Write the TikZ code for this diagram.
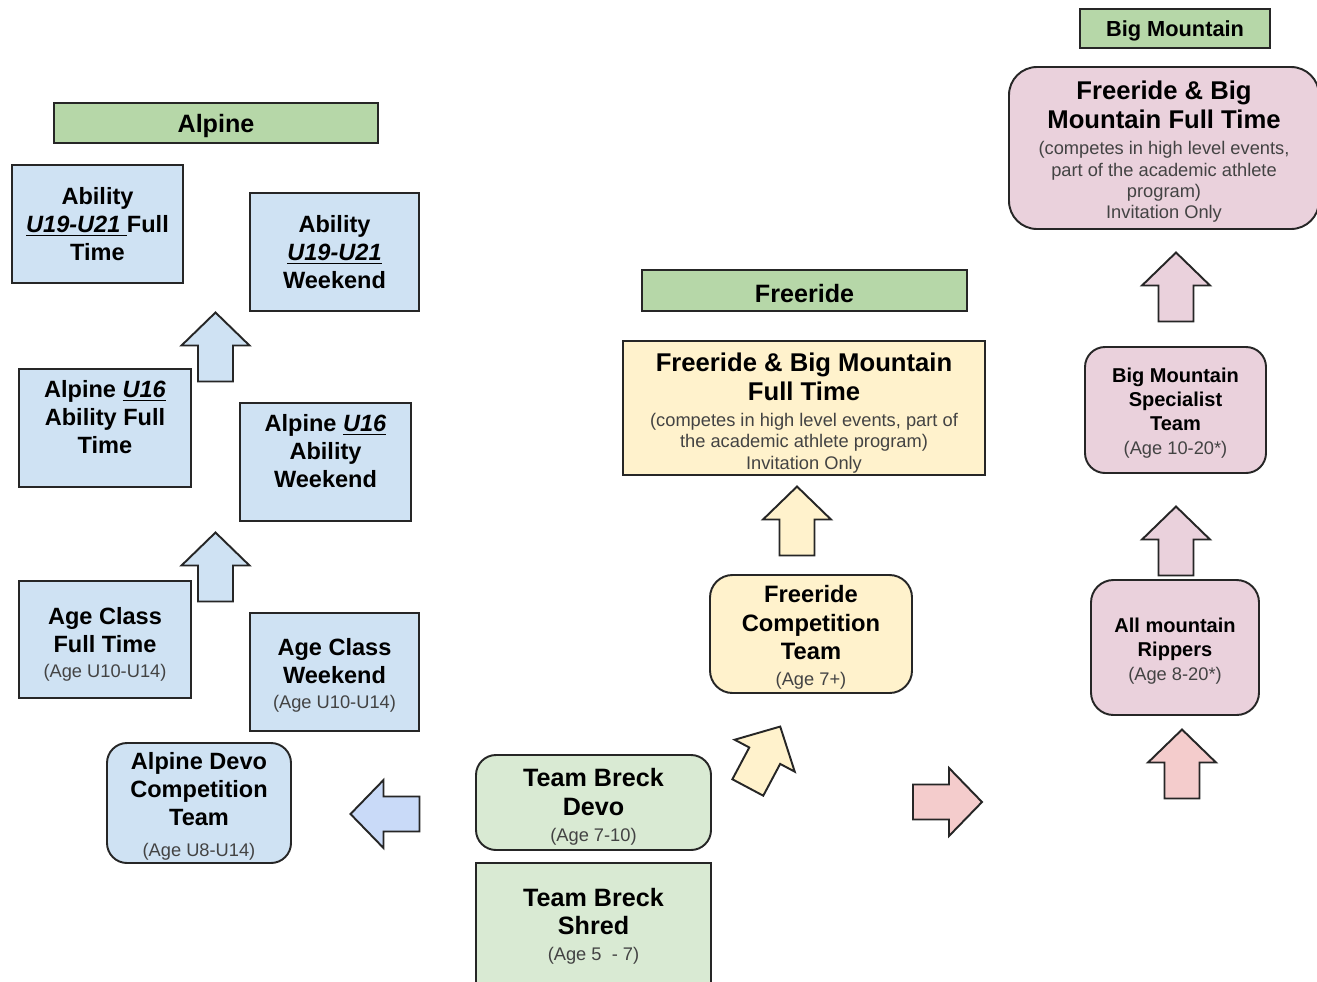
\documentclass[tikz,border=0pt]{standalone}
\usepackage{fontspec}
\setmainfont{Liberation Sans}
\usepackage{xcolor}
\usepackage{tikz}

\definecolor{alpblue}{HTML}{CFE2F3}
\definecolor{arrowblue}{HTML}{C9DAF8}
\definecolor{hdrgreen}{HTML}{B6D7A8}
\definecolor{teamgreen}{HTML}{D9EAD3}
\definecolor{freeyellow}{HTML}{FFF2CC}
\definecolor{bmpink}{HTML}{EAD1DC}
\definecolor{arrowpink}{HTML}{F4CCCC}
\definecolor{linegray}{HTML}{262626}
\definecolor{subgray}{HTML}{434343}

\newcommand{\agetxt}[1]{{\fontsize{10.4}{12.2}\selectfont\mdseries\color{subgray}#1}}
% extra room above the first line, pushes the text down
\newcommand{\tpad}[1]{\rule{0pt}{\dimexpr0.73em+#1\relax}}
% block arrow: centre x, centre y, rotation, fill
\newcommand{\blockarrow}[4]{%
  \draw[arrowline, fill=#4, shift={(#1,#2)}, rotate=#3]
    (0,-34.5) -- (34,-1.5) -- (17.5,-1.5) -- (17.5,34.5)
    -- (-17.5,34.5) -- (-17.5,-1.5) -- (-34,-1.5) -- cycle;}

\tikzset{
  box/.style={draw=linegray, line width=1.1pt, inner sep=0pt, align=center, text=black},
  boxsize/.style 2 args={minimum width=#1*0.02cm, minimum height=#2*0.02cm},
  drop/.style={execute at begin node={\rule{0pt}{\dimexpr0.73em+#1\relax}}},
  lift/.style={execute at end node={\rule[-#1]{0pt}{0pt}}},
  header/.style={box, fill=hdrgreen, drop=2.8pt, font=\fontsize{14.3}{16}\selectfont\bfseries},
  alpbox/.style={box, fill=alpblue, font=\fontsize{13.4}{15.9}\selectfont\bfseries},
  teambox/.style={box, fill=teamgreen, font=\fontsize{14.3}{16.4}\selectfont\bfseries},
  freebox/.style={box, fill=freeyellow, font=\fontsize{13.5}{16.2}\selectfont\bfseries},
  bmbox/.style={box, fill=bmpink, rounded corners=0.4cm, font=\fontsize{11.4}{13.6}\selectfont\bfseries},
  arrowline/.style={draw=linegray, line width=1.1pt, line join=miter}
}

\begin{document}
\begin{tikzpicture}[x=0.02cm,y=-0.02cm]
\useasboundingbox (0,0) rectangle (1317,981);

% headers
\node[header, boxsize={324}{40}] (hdrAlpine) at (216,123) {Alpine};
\node[header, boxsize={325}{41}] (hdrFree) at (804.5,290.5) {Freeride};
\node[header, boxsize={190}{39}, font=\fontsize{12.4}{14}\selectfont\bfseries] (hdrBig) at (1175,28.5) {Big Mountain};

% alpine
\node[alpbox, boxsize={171}{118}] (abFull) at (97.5,224)
  {Ability\\\underline{\textit{U19-U21}\ }Full\\Time};
\node[alpbox, boxsize={169}{118}] (abWeek) at (334.5,252)
  {Ability\\\underline{\textit{U19-U21}}\\Weekend};
\node[alpbox, lift=12.5pt, boxsize={172}{118}] (u16Full) at (105,428)
  {Alpine \underline{\textit{U16}}\\Ability Full\\Time};
\node[alpbox, lift=12.5pt, boxsize={171}{118}] (u16Week) at (325.5,462)
  {Alpine \underline{\textit{U16}}\\Ability\\Weekend};
\node[alpbox, boxsize={172}{117}] (acFull) at (105,639.5)
  {\tpad{5pt}Age Class\\Full Time\\[-1.7pt]\agetxt{(Age U10-U14)}};
\node[alpbox, boxsize={169}{118}] (acWeek) at (334.5,672)
  {\tpad{3.6pt}Age Class\\Weekend\\[-1.7pt]\agetxt{(Age U10-U14)}};
\node[alpbox, boxsize={184}{120}, rounded corners=0.4cm] (alpDevo) at (199,803)
  {\tpad{3.6pt}Alpine Devo\\Competition\\Team\\[2pt]\agetxt{(Age U8-U14)}};

% team breck
\node[teambox, boxsize={235}{95}, rounded corners=0.4cm] (tbDevo) at (593.5,802.5)
  {\tpad{4.5pt}Team Breck\\Devo\\[-1.7pt]\agetxt{(Age 7-10)}};
\node[teambox, boxsize={235}{120}] (tbShred) at (593.5,923)
  {\tpad{3.6pt}Team Breck\\Shred\\[-1.7pt]\agetxt{(Age 5\ \ - 7)}};

% freeride
\node[freebox, boxsize={362}{134}, font=\fontsize{14.6}{16.4}\selectfont\bfseries] (frFull) at (804,408)
  {\tpad{5.5pt}Freeride \& Big Mountain\\Full Time\\[-1.7pt]\agetxt{(competes in high level events, part of}\\[-4.2pt]\agetxt{the academic athlete program)}\\[-4.2pt]\agetxt{Invitation Only}};
\node[freebox, boxsize={202}{118}, rounded corners=0.45cm] (frComp) at (811,634)
  {\tpad{3.6pt}Freeride\\Competition\\Team\\[-1.5pt]\agetxt{(Age 7+)}};

% big mountain
\node[bmbox, boxsize={310}{162}, rounded corners=0.56cm, font=\fontsize{14.6}{16.4}\selectfont\bfseries] (bmFull) at (1164,148)
  {\tpad{4.5pt}Freeride \& Big\\Mountain Full Time\\[-1.7pt]\agetxt{(competes in high level events,}\\[-4.2pt]\agetxt{part of the academic athlete}\\[-4.2pt]\agetxt{program)}\\[-4.2pt]\agetxt{Invitation Only}};
\node[bmbox, boxsize={181}{126}] (bmSpec) at (1175.5,410)
  {\tpad{3.6pt}Big Mountain\\Specialist\\Team\\\agetxt{(Age 10-20*)}};
\node[bmbox, boxsize={168}{135}, rounded corners=0.45cm] (amRip) at (1175,647.5)
  {\tpad{4.5pt}All mountain\\Rippers\\\agetxt{(Age 8-20*)}};

% block arrows
\blockarrow{215.5}{347}{0}{alpblue}
\blockarrow{215.5}{567}{0}{alpblue}
\blockarrow{385}{814}{90}{arrowblue}
\blockarrow{797}{521}{0}{freeyellow}
\blockarrow{764}{757}{-28}{freeyellow}
\blockarrow{947.5}{802}{-90}{arrowpink}
\blockarrow{1176}{287}{0}{bmpink}
\blockarrow{1176}{541}{0}{bmpink}
\blockarrow{1182}{764}{0}{arrowpink}
\end{tikzpicture}
\end{document}
